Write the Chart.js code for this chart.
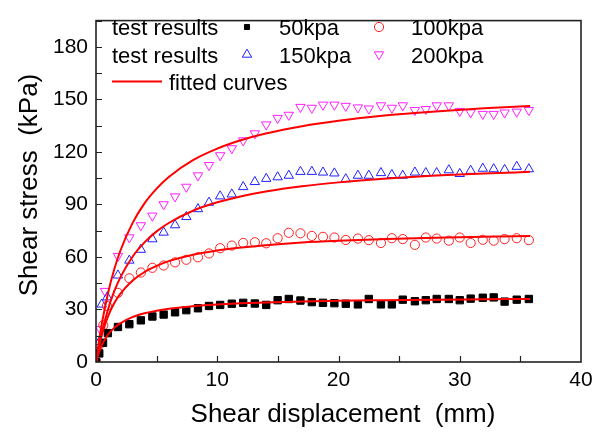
<!DOCTYPE html>
<html>
<head>
<meta charset="utf-8">
<script src="https://cdn.jsdelivr.net/npm/chart.js@4.4.1/dist/chart.umd.min.js"></script>
<style>
  html, body { margin: 0; padding: 0; background: #fff; }
  #wrap { width: 604px; height: 435px; }
</style>
</head>
<body>
<div id="wrap"><canvas id="shearChart" width="604" height="435"></canvas></div>
<script>
// Direct shear test: shear stress vs shear displacement at four normal stresses

// displacement (mm) shared by all tests after the first few readings
const tailX = [1.81, 2.75, 3.7, 4.65, 5.58, 6.52, 7.45, 8.41, 9.32, 10.24, 11.2, 12.14,
  13.1, 14.04, 14.98, 15.9, 16.86, 17.8, 18.72, 19.66, 20.6, 21.6, 22.5, 23.5, 24.4,
  25.3, 26.3, 27.2, 28.1, 29.1, 30.0, 30.9, 31.9, 32.8, 33.7, 34.7, 35.7];

// test results, kPa
const x50 = [0, 0.27, 0.58, 0.98, ...tailX];
const y50 = [0, 4.9, 11, 16.5,
  20, 21.6, 23.8, 26, 27.1, 28.4, 29.6, 30.7, 32, 32.6, 33.3, 33.8, 33.4, 32.6, 35.3,
  36, 35.1, 34.2, 33.8, 33.6, 33.3, 32.9, 36, 32.9, 32.9, 35.6, 34.7, 35.3, 36, 36,
  35.3, 36.2, 36.7, 36.9, 34.5, 35.6, 36];

const x100 = [0, 0.3, 0.6, 0.9, ...tailX];
const y100 = [0, 10, 21, 32,
  39.5, 47.8, 51.1, 53.8, 55.1, 56.9, 58.4, 59.8, 62, 65, 66.5, 68, 68.4, 67.8, 70.7,
  73.8, 73.5, 72, 71.5, 71.1, 69.7, 70.5, 69.6, 68, 70.7, 70.2, 66.9, 71.1, 70.5, 69.3,
  71.1, 68, 69.8, 69.3, 70.2, 70.7, 69.6];

const x150 = [0, 0.27, 0.47, 0.93, ...tailX];
const y150 = [0, 11.5, 32.9, 37,
  49.5, 58, 64.2, 70.2, 74, 78.2, 82.9, 87.4, 91.1, 94.7, 95.8, 100, 102.9, 104.7,
  105.6, 106.5, 108.7, 108.7, 108.3, 107.8, 104.5, 106.5, 106.5, 108, 106.9, 106.5,
  108.3, 108, 108, 109.6, 107.5, 109.3, 110.5, 110.2, 109.8, 111.6, 110.2];

const x200 = [0, 0.35, 0.74, ...tailX];
const y200 = [0, 18.7, 40.5,
  60.5, 71.1, 78, 83.5, 90, 94.5, 100, 106.5, 112.4, 118, 122, 126.5, 130.5, 135.6,
  139.3, 141.1, 145.6, 145.1, 146.9, 146.9, 146.2, 145.3, 144.7, 146.5, 145.1, 146.5,
  143.8, 144.4, 146.5, 146.5, 143.3, 142.5, 141.6, 141.6, 142.4, 142.9, 143.8];

// fitted curves
const fitX = [0, 0.25, 0.5, 1, 1.5, 2, 3, 4, 5, 6, 8, 10, 12, 14, 17, 20, 24, 28, 32, 35.8];
const fit50 = [0, 5.7, 9.9, 15.7, 19.5, 22.1, 25.6, 27.8, 29.3, 30.4, 31.9, 32.8, 33.5,
  34.0, 34.6, 35.0, 35.3, 35.6, 35.8, 36.0];
const fit100 = [0, 8.8, 15.8, 26.2, 33.5, 38.9, 46.4, 51.4, 54.9, 57.6, 61.3, 63.7, 65.4,
  66.7, 68.2, 69.2, 70.2, 71.0, 71.6, 72.0];
const fit150 = [0, 9.4, 17.4, 30.3, 40.3, 48.2, 60.0, 68.3, 74.6, 79.4, 86.4, 91.2, 94.7,
  97.4, 100.4, 102.6, 104.8, 106.5, 107.7, 108.6];
const fit200 = [0, 12.2, 22.6, 39.6, 52.8, 63.4, 79.2, 90.6, 99.0, 105.7, 115.3, 121.9,
  126.8, 130.5, 134.7, 137.8, 140.9, 143.1, 144.9, 146.2];

const xTicks = [0, 10, 20, 30, 40];
const yTicks = [0, 30, 60, 90, 120, 150, 180];

const FONT = "'Liberation Sans', Arial, sans-serif";
Chart.defaults.font.family = FONT;
Chart.defaults.color = "#000";

const toPoints = (xs, ys) => xs.map((x, i) => ({ x: x, y: ys[i] }));

// marker styles, reused by the hand drawn legend
const markers = {
  p50: { pointStyle: "rect", radius: 5.2, rotation: 0, borderWidth: 1, color: "#000", fill: "#000" },
  p100: { pointStyle: "circle", radius: 4.6, rotation: 0, borderWidth: 1, color: "#ff2020", fill: "rgba(0,0,0,0)" },
  p150: { pointStyle: "triangle", radius: 5.4, rotation: 0, borderWidth: 1, color: "#2020ff", fill: "rgba(0,0,0,0)" },
  p200: { pointStyle: "triangle", radius: 5.4, rotation: 180, borderWidth: 1, color: "#ff20ff", fill: "rgba(0,0,0,0)" },
};

function pointSet(xs, ys, m) {
  return {
    type: "scatter",
    data: toPoints(xs, ys),
    showLine: false,
    pointStyle: m.pointStyle,
    pointRotation: m.rotation,
    pointRadius: m.radius,
    pointBorderWidth: m.borderWidth,
    borderColor: m.color,
    backgroundColor: m.fill,
    order: 2,
  };
}

function curveSet(ys) {
  return {
    type: "line",
    data: toPoints(fitX, ys),
    borderColor: "#ff0000",
    borderWidth: 2,
    pointRadius: 0,
    fill: false,
    cubicInterpolationMode: "monotone",
    order: 1,
  };
}

// frame, inward ticks, axis titles and legend
const decorPlugin = {
  id: "decor",
  afterDatasetsDraw(chart) {
    const ctx = chart.ctx;
    const area = chart.chartArea;
    const xs = chart.scales.x;
    const ys = chart.scales.y;
    ctx.save();

    ctx.strokeStyle = "#222";
    ctx.lineWidth = 1.6;
    ctx.strokeRect(area.left, area.top, area.right - area.left, area.bottom - area.top);

    ctx.lineWidth = 1.2;
    ctx.beginPath();
    for (let v = 5; v < 40; v += 5) {
      const px = Math.round(xs.getPixelForValue(v)) + 0.5;
      ctx.moveTo(px, area.bottom);
      ctx.lineTo(px, area.bottom - 6);
    }
    for (let v = 15; v <= 195; v += 15) {
      const py = Math.round(ys.getPixelForValue(v)) + 0.5;
      ctx.moveTo(area.left, py);
      ctx.lineTo(area.left + 6, py);
    }
    ctx.stroke();

    // axis titles
    ctx.fillStyle = "#000";
    ctx.font = "26px " + FONT;
    ctx.textAlign = "center";
    ctx.textBaseline = "middle";
    ctx.fillText("Shear displacement  (mm)", 343, 415);
    ctx.save();
    ctx.translate(30, 185);
    ctx.rotate(-Math.PI / 2);
    ctx.fillText("Shear stress  (kPa)", 0, 0);
    ctx.restore();

    // legend
    ctx.font = "22px " + FONT;
    ctx.textAlign = "left";
    const rows = [
      ["test results", markers.p50, "50kpa", markers.p100, "100kpa", 27],
      ["test results", markers.p150, "150kpa", markers.p200, "200kpa", 54.5],
    ];
    rows.forEach((r) => {
      ctx.fillStyle = "#000";
      ctx.fillText(r[0], 112, r[5] + 2);
      ctx.fillText(r[2], 279, r[5] + 2);
      ctx.fillText(r[4], 411, r[5] + 2);
      [[r[1], 247], [r[3], 379]].forEach(([m, cx]) => {
        ctx.strokeStyle = m.color;
        ctx.fillStyle = m.fill;
        ctx.lineWidth = m.borderWidth;
        Chart.helpers.drawPoint(ctx, {
          pointStyle: m.pointStyle,
          rotation: m.rotation,
          radius: m.pointStyle === "rect" ? 3.6 : m.radius,
          borderWidth: m.borderWidth,
        }, cx, r[5]);
      });
    });
    ctx.strokeStyle = "#ff0000";
    ctx.lineWidth = 2;
    ctx.beginPath();
    ctx.moveTo(112, 81.5);
    ctx.lineTo(162, 81.5);
    ctx.stroke();
    ctx.fillStyle = "#000";
    ctx.fillText("fitted curves", 169, 83.5);

    ctx.restore();
  },
};

const chart = new Chart(document.getElementById("shearChart"), {
  data: {
    datasets: [
      pointSet(x50, y50, markers.p50),
      pointSet(x100, y100, markers.p100),
      pointSet(x150, y150, markers.p150),
      pointSet(x200, y200, markers.p200),
      curveSet(fit50),
      curveSet(fit100),
      curveSet(fit150),
      curveSet(fit200),
    ],
  },
  options: {
    responsive: false,
    animation: false,
    layout: { padding: { top: 4, right: 23, left: 0, bottom: 0 } },
    plugins: { legend: { display: false }, tooltip: { enabled: false } },
    scales: {
      x: {
        type: "linear",
        min: 0,
        max: 40,
        grid: { display: false, drawTicks: false },
        border: { display: false },
        ticks: { font: { size: 21 }, padding: 6, maxRotation: 0 },
        afterBuildTicks: (s) => { s.ticks = xTicks.map((v) => ({ value: v })); },
        afterFit: (s) => { s.height = 73; },
      },
      y: {
        type: "linear",
        min: 0,
        max: 195,
        grid: { display: false, drawTicks: false },
        border: { display: false },
        ticks: { font: { size: 21 }, padding: 8 },
        afterBuildTicks: (s) => { s.ticks = yTicks.map((v) => ({ value: v })); },
        afterFit: (s) => { s.width = 96; },
      },
    },
  },
  plugins: [decorPlugin],
});
</script>
</body>
</html>
